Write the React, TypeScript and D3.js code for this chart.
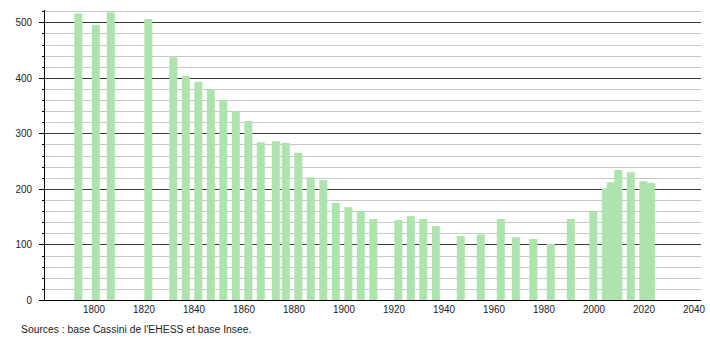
import React from "react";
import * as d3 from "d3";

const years = [1793, 1800, 1806, 1821, 1831, 1836, 1841, 1846, 1851, 1856, 1861, 1866, 1872, 1876, 1881, 1886, 1891, 1896, 1901, 1906, 1911, 1921, 1926, 1931, 1936, 1946, 1954, 1962, 1968, 1975, 1982, 1990, 1999, 2004, 2006, 2009, 2014, 2019, 2022];
const population = [516, 495, 518, 506, 437, 403, 393, 379, 360, 340, 322, 284, 286, 283, 265, 221, 216, 175, 167, 160, 146, 144, 151, 146, 133, 115, 118, 146, 113, 110, 101, 146, 160, 201, 212, 234, 230, 214, 211];
const xTicks = [1800, 1820, 1840, 1860, 1880, 1900, 1920, 1940, 1960, 1980, 2000, 2020, 2040];
const yMajor = [0, 100, 200, 300, 400, 500];
const yMinor = d3.range(0, 521, 20);
const sourceText = "Sources : base Cassini de l'EHESS et base Insee.";

const W = 710;
const H = 340;
const left = 44;
const right = 701;
const bottom = 300;
const top = 11.2;

export default function App() {
  const x = d3.scaleLinear().domain([1780, 2042.8]).range([left, right]);
  const y = d3.scaleLinear().domain([0, 520]).range([bottom, top]);
  const barW = 8;
  const font = "'Liberation Sans', Arial, sans-serif";
  const sx = 0.86;

  return (
    <svg width={W} height={H} style={{ position: "absolute", left: 0, top: 0, background: "#fff" }}>
      {yMinor.filter((v) => v % 100 !== 0).map((v) => (
        <line key={"mn" + v} x1={left} x2={right} y1={Math.round(y(v)) + 0.5} y2={Math.round(y(v)) + 0.5} stroke="#c8c8c8" strokeWidth={1} />
      ))}
      {yMajor.filter((v) => v !== 0).map((v) => (
        <line key={"mj" + v} x1={left} x2={right} y1={Math.round(y(v)) + 0.5} y2={Math.round(y(v)) + 0.5} stroke="#3a3a3a" strokeWidth={1} />
      ))}
      {years.map((yr, i) => (
        <rect key={yr} x={x(yr) - 2.2} y={y(population[i])} width={barW} height={bottom - y(population[i])} fill="#ade4ad" />
      ))}
      <line x1={left + 0.5} x2={left + 0.5} y1={10} y2={bottom} stroke="#000" strokeWidth={1} />
      {yMinor.map((v) => (
        <line key={"t" + v} x1={v % 100 === 0 ? left - 5 : left - 2} x2={left} y1={Math.round(y(v)) + 0.5} y2={Math.round(y(v)) + 0.5} stroke="#000" strokeWidth={1} />
      ))}
      {yMajor.map((v) => (
        <text key={"yl" + v} transform={`translate(${32},${y(v) + 4}) scale(${sx},1)`} textAnchor="end" fontFamily={font} fontSize={11.5} fill="#222">
          {v}
        </text>
      ))}
      <line x1={left - 5} x2={right} y1={bottom + 0.5} y2={bottom + 0.5} stroke="#000" strokeWidth={1} />
      {xTicks.map((t) => (
        <text key={"xl" + t} transform={`translate(${x(t)},${313}) scale(${sx},1)`} textAnchor="middle" fontFamily={font} fontSize={11.5} fill="#222">
          {t}
        </text>
      ))}
      <text transform={`translate(21,333) scale(0.9,1)`} fontFamily={font} fontSize={11.5} fill="#222">
        {sourceText}
      </text>
    </svg>
  );
}
